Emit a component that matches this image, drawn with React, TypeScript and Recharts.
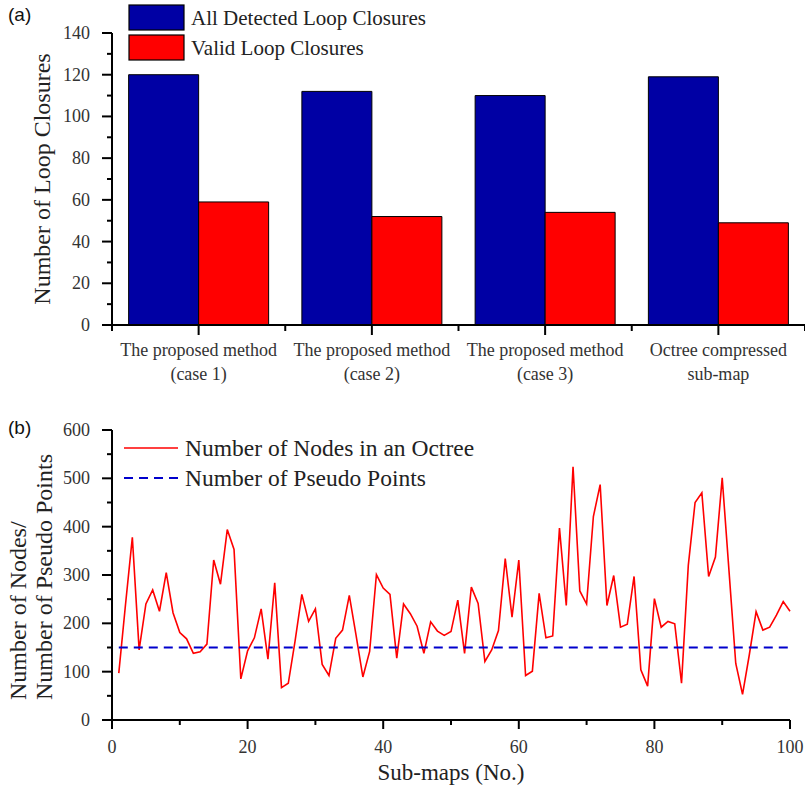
import React from 'react';
import { BarChart, Bar, XAxis, YAxis, Legend, LineChart, Line } from 'recharts';

// ---------- Panel (a) data ----------
const methods = [
  'The proposed method\n(case 1)',
  'The proposed method\n(case 2)',
  'The proposed method\n(case 3)',
  'Octree compressed\nsub-map',
];
const allDetected = [120, 112, 110, 119];
const validClosures = [59, 52, 54, 49];
const barYTicks = [0, 10, 20, 30, 40, 50, 60, 70, 80, 90, 100, 110, 120, 130, 140];

// ---------- Panel (b) data ----------
const octreeNodes = [
  97, 240, 378, 145, 240, 269, 225, 305, 222, 181,
  168, 138, 141, 157, 331, 281, 394, 353, 85, 143,
  170, 230, 126, 284, 67, 76, 163, 260, 204, 230,
  115, 92, 169, 186, 258, 175, 89, 142, 301, 273,
  260, 128, 240, 220, 194, 138, 203, 184, 175, 183,
  248, 138, 275, 241, 121, 145, 185, 334, 213, 331,
  92, 101, 262, 170, 174, 397, 237, 524, 267, 240,
  421, 487, 237, 299, 192, 198, 297, 104, 70, 251,
  192, 204, 199, 76, 320, 450, 470, 297, 337, 501,
  309, 117, 53, 135, 224, 186, 192, 217, 245, 225,
];
const pseudoPoints = 150;
const lineXTicks = [0, 10, 20, 30, 40, 50, 60, 70, 80, 90, 100];
const lineYTicks = [0, 50, 100, 150, 200, 250, 300, 350, 400, 450, 500, 550, 600];

const barData = methods.map((m, i) => ({ method: m, all: allDetected[i], valid: validClosures[i] }));
const lineData = octreeNodes.map((v, i) => ({ id: i + 1, nodes: v, pseudo: pseudoPoints }));

const SERIF = '"Liberation Serif", "Times New Roman", serif';
const SANS = '"Liberation Sans", Arial, sans-serif';
const TICK_MAJOR = 10;
const TICK_MINOR = 5;
const TICK_MARGIN = 12;
const LABEL_COLOR = '#333';
const BLUE_BAR = '#0000A4';
const RED = '#FF0000';
const BLUE_LINE = '#0000CC';

const dashMap: Record<string, string | undefined> = { nodes: undefined, pseudo: '9 6' };

function LeftTick(props: any) {
  const { x, y, payload, majorStep } = props;
  const axisX = x + TICK_MAJOR + TICK_MARGIN;
  const v = payload.value;
  const major = v % majorStep === 0;
  return (
    <g>
      <line x1={axisX - (major ? TICK_MAJOR : TICK_MINOR)} x2={axisX} y1={y} y2={y} stroke="#000" strokeWidth={2} />
      {major && (
        <text x={x} y={y} textAnchor="end" dominantBaseline="central" fontSize={18} fill={LABEL_COLOR} fontFamily={SERIF}>
          {v}
        </text>
      )}
    </g>
  );
}

function CategoryTick(props: any) {
  const { x, y, payload, index } = props;
  const axisY = y - TICK_MAJOR - TICK_MARGIN;
  const half = payload && typeof payload.offset === 'number' ? payload.offset : 0;
  const lines = String(payload.value).split('\n');
  return (
    <g>
      <line x1={x} x2={x} y1={axisY} y2={axisY + TICK_MAJOR} stroke="#000" strokeWidth={2} />
      {half > 0 && (
        <line x1={x + half} x2={x + half} y1={axisY} y2={axisY + 6} stroke="#000" strokeWidth={2} />
      )}
      {half > 0 && index === 0 && (
        <line x1={x - half} x2={x - half} y1={axisY} y2={axisY + 6} stroke="#000" strokeWidth={2} />
      )}
      {lines.map((t, i) => (
        <text key={i} x={x} y={axisY + 25 + i * 24} textAnchor="middle" dominantBaseline="central" fontSize={18} fill={LABEL_COLOR} fontFamily={SERIF}>
          {t}
        </text>
      ))}
    </g>
  );
}

function NumberBottomTick(props: any) {
  const { x, y, payload } = props;
  const axisY = y - TICK_MAJOR - TICK_MARGIN;
  const v = payload.value;
  const major = v % 20 === 0;
  return (
    <g>
      <line x1={x} x2={x} y1={axisY} y2={axisY + (major ? 9 : 5)} stroke="#000" strokeWidth={2} />
      {major && (
        <text x={x} y={axisY + 27} textAnchor="middle" dominantBaseline="central" fontSize={18} fill={LABEL_COLOR} fontFamily={SERIF}>
          {v}
        </text>
      )}
    </g>
  );
}

function LegendA(props: any) {
  const payload: any[] = props.payload || [];
  const order = ['all', 'valid'];
  const items = order.map((k) => payload.find((p) => p.dataKey === k)).filter(Boolean);
  return (
    <svg width={420} height={64} style={{ display: 'block', overflow: 'visible' }}>
      {items.map((e: any, i: number) => (
        <g key={e.dataKey}>
          <rect x={1} y={1 + i * 30} width={55} height={25} fill={e.color} stroke="#000" strokeWidth={1.2} />
          <text x={63} y={14 + i * 30} dominantBaseline="central" fontSize={21} fill="#222" fontFamily={SERIF}>
            {e.value}
          </text>
        </g>
      ))}
    </svg>
  );
}

function LegendB(props: any) {
  const payload: any[] = props.payload || [];
  const order = ['nodes', 'pseudo'];
  const items = order.map((k) => payload.find((p) => p.dataKey === k)).filter(Boolean);
  return (
    <svg width={420} height={60} style={{ display: 'block', overflow: 'visible' }}>
      {items.map((e: any, i: number) => (
        <g key={e.dataKey}>
          <line x1={1} x2={55} y1={14 + i * 30} y2={14 + i * 30} stroke={e.color} strokeWidth={e.dataKey === 'pseudo' ? 2 : 1.6} strokeDasharray={dashMap[e.dataKey]} />
          <text x={62} y={14 + i * 30} dominantBaseline="central" fontSize={23.5} fill="#222" fontFamily={SERIF}>
            {e.value}
          </text>
        </g>
      ))}
    </svg>
  );
}

export default function App() {
  return (
    <div style={{ position: 'absolute', left: 0, top: 0, width: 805, height: 786, background: '#fff', overflow: 'hidden' }}>
      <div style={{ position: 'absolute', left: 8, top: 4, fontFamily: SANS, fontSize: 19, color: '#111' }}>(a)</div>
      <div style={{ position: 'absolute', left: 8, top: 417, fontFamily: SANS, fontSize: 19, color: '#111' }}>(b)</div>

      <div style={{ position: 'absolute', left: 0, top: 0 }}>
        <BarChart width={805} height={385} data={barData} margin={{ top: 33, right: 0, left: 50, bottom: 0 }} barGap={0} barCategoryGap="9.6%">
          <XAxis
            dataKey="method"
            height={60}
            interval={0}
            tickSize={TICK_MAJOR}
            tickMargin={TICK_MARGIN}
            tickLine={false}
            axisLine={{ stroke: '#000', strokeWidth: 2 }}
            tick={(p: any) => <CategoryTick {...p} />}
          />
          <YAxis
            width={62}
            domain={[0, 140]}
            ticks={barYTicks}
            interval={0}
            tickSize={TICK_MAJOR}
            tickMargin={TICK_MARGIN}
            tickLine={false}
            axisLine={{ stroke: '#000', strokeWidth: 2 }}
            tick={(p: any) => <LeftTick {...p} majorStep={20} />}
            label={(lp: any) => {
              const vb = lp.viewBox || {};
              const cy = (vb.y ?? 33) + (vb.height ?? 292) / 2;
              return (
                <text x={42} y={cy} transform={`rotate(-90 42 ${cy})`} textAnchor="middle" dominantBaseline="central" fontSize={24} fill="#222" fontFamily={SERIF}>
                  Number of Loop Closures
                </text>
              );
            }}
          />
          <Legend
            layout="vertical"
            align="center"
            verticalAlign="middle"
            wrapperStyle={{ left: 128, top: 4, width: 420, height: 64 }}
            content={(p: any) => <LegendA {...p} />}
          />
          <Bar dataKey="all" name="All Detected Loop Closures" fill={BLUE_BAR} stroke="#000" strokeWidth={1} isAnimationActive={false} />
          <Bar dataKey="valid" name="Valid Loop Closures" fill={RED} stroke="#000" strokeWidth={1} isAnimationActive={false} />
        </BarChart>
      </div>

      <div style={{ position: 'absolute', left: 0, top: 390 }}>
        <LineChart width={805} height={396} data={lineData} margin={{ top: 40, right: 15, left: 50, bottom: 0 }}>
          <XAxis
            dataKey="id"
            type="number"
            domain={[0, 100]}
            ticks={lineXTicks}
            interval={0}
            height={66}
            tickSize={TICK_MAJOR}
            tickMargin={TICK_MARGIN}
            tickLine={false}
            axisLine={{ stroke: '#000', strokeWidth: 2 }}
            tick={(p: any) => <NumberBottomTick {...p} />}
            label={(lp: any) => {
              const vb = lp.viewBox || {};
              const cx = (vb.x ?? 112) + (vb.width ?? 678) / 2;
              return (
                <text x={cx} y={382} textAnchor="middle" dominantBaseline="central" fontSize={23} fill="#222" fontFamily={SERIF}>
                  Sub-maps (No.)
                </text>
              );
            }}
          />
          <YAxis
            width={62}
            domain={[0, 600]}
            ticks={lineYTicks}
            interval={0}
            tickSize={TICK_MAJOR}
            tickMargin={TICK_MARGIN}
            tickLine={false}
            axisLine={{ stroke: '#000', strokeWidth: 2 }}
            tick={(p: any) => <LeftTick {...p} majorStep={100} />}
            label={() => (
              <g>
                <text x={18} y={310} transform="rotate(-90 18 310)" textAnchor="start" dominantBaseline="central" fontSize={24} fill="#222" fontFamily={SERIF}>
                  Number of Nodes/
                </text>
                <text x={44} y={310} transform="rotate(-90 44 310)" textAnchor="start" dominantBaseline="central" fontSize={24} fill="#222" fontFamily={SERIF}>
                  Number of Pseudo Points
                </text>
              </g>
            )}
          />
          <Legend
            layout="vertical"
            align="center"
            verticalAlign="middle"
            wrapperStyle={{ left: 123, top: 44, width: 420, height: 60 }}
            content={(p: any) => <LegendB {...p} />}
          />
          <Line type="linear" dataKey="nodes" name="Number of Nodes in an Octree" stroke={RED} strokeWidth={1.6} dot={false} activeDot={false} isAnimationActive={false} />
          <Line type="linear" dataKey="pseudo" name="Number of Pseudo Points" stroke={BLUE_LINE} strokeWidth={2} strokeDasharray="9 6" dot={false} activeDot={false} isAnimationActive={false} />
        </LineChart>
      </div>
    </div>
  );
}
